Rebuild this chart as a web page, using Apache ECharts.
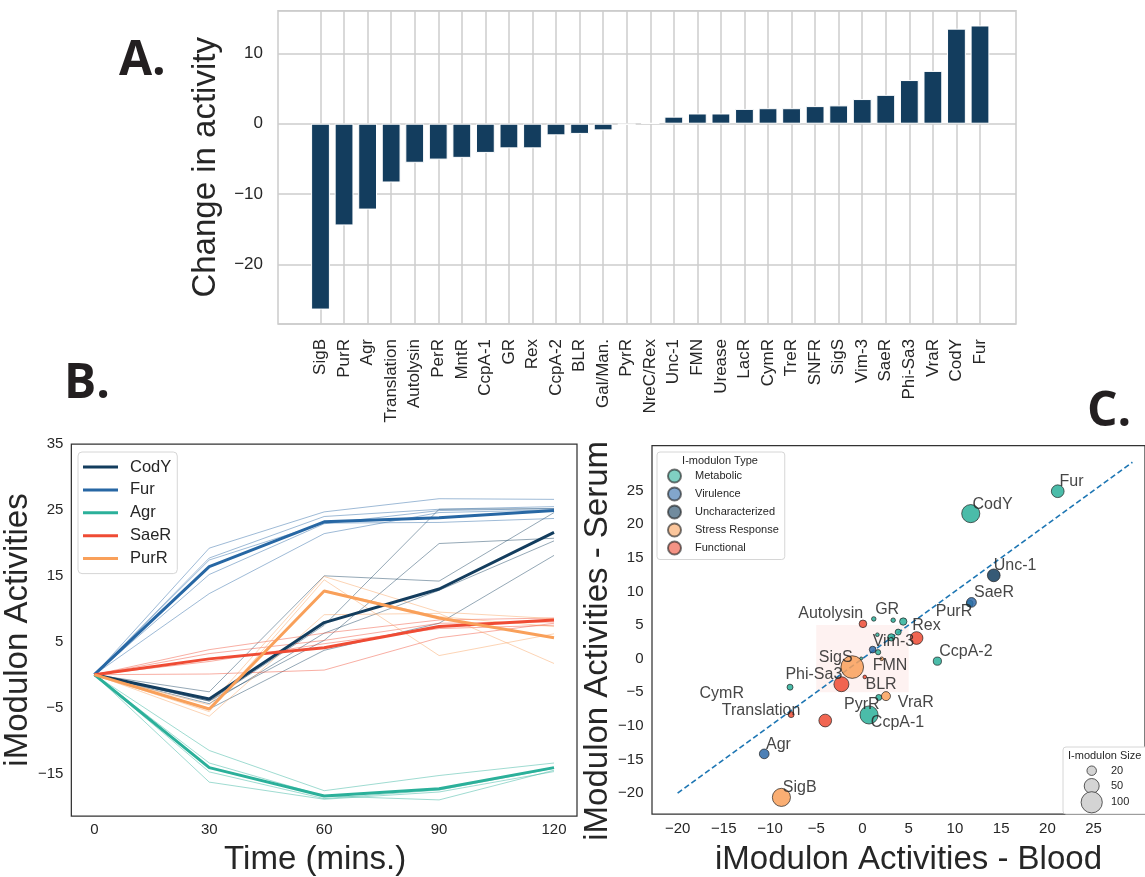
<!DOCTYPE html>
<html><head><meta charset="utf-8">
<script src="https://cdn.jsdelivr.net/npm/echarts@6/dist/echarts.min.js"></script>
<style>html,body{margin:0;padding:0;background:#fff}#c{width:1145px;height:877px}</style>
</head><body><div id="c"></div>
<script>
// ---------- Panel A data ----------
const aCategories = ['SigB','PurR','Agr','Translation','Autolysin','PerR','MntR','CcpA-1','GR','Rex','CcpA-2','BLR','Gal/Man.','PyrR','NreC/Rex','Unc-1','FMN','Urease','LacR','CymR','TreR','SNFR','SigS','Vim-3','SaeR','Phi-Sa3','VraR','CodY','Fur'];
const aValues = [-26.4,-14.45,-12.2,-8.35,-5.55,-5.1,-4.85,-4.15,-3.5,-3.5,-1.65,-1.45,-0.95,-0.15,0.1,1.0,1.45,1.45,2.1,2.2,2.2,2.5,2.6,3.5,4.1,6.2,7.5,13.5,13.95];
const aYTicks = [-20,-10,0,10];

// ---------- Panel B data ----------
const bTimes = [0,30,60,90,120];
const bXTicks = [0,30,60,90,120];
const bYTicks = [-15,-5,5,15,25,35];
const bNames = ['CodY','Fur','Agr','SaeR','PurR'];
const bCodY = [0,-3.7,7.9,13.0,21.6];
const bFur  = [0,16.4,23.2,23.8,24.9];
const bAgr  = [0,-14.1,-18.4,-17.3,-14.1];
const bSaeR = [0,2.4,4.1,7.3,8.3];
const bPurR = [0,-5.2,12.7,8.6,5.6];
const bCodYReps = [[0,-2.6,15.0,14.2,24.6],[0,-4.0,7.5,25.1,25.2],[0,-4.0,5.2,19.9,20.7],[0,-4.4,6.3,12.8,20.3],[0,-5.2,3.7,7.8,18.1]];
const bFurReps  = [[0,19.2,24.7,26.7,26.6],[0,17.7,24.0,25.1,25.5],[0,17.4,23.0,23.1,23.7],[0,15.2,22.9,24.9,25.2],[0,12.3,21.4,24.6,25.0]];
const bAgrReps  = [[0,-11.5,-17.6,-15.3,-13.4],[0,-13.4,-18.4,-19.0,-14.5],[0,-14.75,-18.8,-17.5,-14.2],[0,-16.3,-18.9,-17.8,-14.7]];
const bSaeRReps = [[0,3.8,6.3,8.3,8.6],[0,3.2,5.2,7.8,8.0],[0,0.1,0.7,5.6,7.8],[0,2.0,4.7,7.0,7.5]];
const bPurRReps = [[0,-4.6,14.9,9.5,8.5],[0,-5.6,14.4,2.9,6.2],[0,-6.3,9.1,9.3,1.7],[0,-5.1,12.8,8.8,7.3]];

// ---------- Panel C data ----------
const cTypes = ['Metabolic','Virulence','Uncharacterized','Stress Response','Functional'];
const cNames  = ['PurR','GR','MntR','Urease','LacR','TreR','SNFR','FMN','Gal/Man.','CcpA-2','CymR','PyrR','CcpA-1','Fur','CodY','SaeR','Vim-3','Agr','Unc-1','SigS','PerR','VraR','SigB','Autolysin','Rex','BLR','Phi-Sa3','Translation','NreC/Rex'];
const cBlood  = [11.6,1.22,3.32,4.41,3.86,3.12,1.61,1.69,-0.14,8.1,-7.84,1.76,0.71,21.12,11.71,11.79,1.1,-10.63,14.2,-1.11,2.08,2.54,-8.77,0.05,5.85,0.25,-2.28,-7.72,-4.03];
const cSerum  = [8.2,5.91,5.72,5.52,3.95,3.16,3.56,0.96,0.03,-0.37,-4.24,-5.77,-8.37,24.9,21.57,8.37,1.35,-14.16,12.39,-1.25,-0.02,-5.57,-20.63,5.18,3.07,-2.72,-3.8,-8.32,-9.2];
const cSize   = [10,4.5,4.5,12,8,12,3,6,2,15,8,8,73,36,73,21,10,21,36,114,3,18,73,13,36,3,50,8,36];
const cType   = ['Metabolic','Metabolic','Metabolic','Metabolic','Metabolic','Metabolic','Metabolic','Metabolic','Metabolic','Metabolic','Metabolic','Metabolic','Metabolic','Metabolic','Metabolic','Virulence','Virulence','Virulence','Uncharacterized','Stress Response','Stress Response','Stress Response','Stress Response','Functional','Functional','Functional','Functional','Functional','Functional'];
const cLabeled = ['Fur','CodY','Unc-1','SaeR','PurR','Autolysin','GR','Rex','Vim-3','FMN','CcpA-2','SigS','BLR','Phi-Sa3','CymR','VraR','PyrR','CcpA-1','Translation','Agr','SigB'];
const cXTicks = [-20,-15,-10,-5,0,5,10,15,20,25];
const cYTicks = [-20,-15,-10,-5,0,5,10,15,20,25];
const cDiagonal = [-20, 29.2];
const cHighlight = [-5, 5];
const cSizeKeys = [20, 50, 100];

// ---------- layout / style (not data) ----------
const FONT = 'Liberation Sans';
const TXT = '#262626';
const bColors = {CodY:'#133d5e', Fur:'#2767a4', Agr:'#2bb09a', SaeR:'#ef4b34', PurR:'#f9a05a'};
const cColors = {'Metabolic':'#2bb09a','Virulence':'#2f6aa8','Uncharacterized':'#133d5e','Stress Response':'#f9a05a','Functional':'#ef4b34'};
const cLabelOffset = {
  'Fur':[1.8,-9.3],'CodY':[1.8,-9.3],'Unc-1':[0,-9.3],'SaeR':[2.5,-10],'PurR':[-34,7.7],
  'Autolysin':[-64.7,-10],'GR':[1.4,-9.7],'Rex':[-4.3,-12.7],'Vim-3':[0,-8.3],'FMN':[-5.4,13],
  'CcpA-2':[1.8,-9.3],'SigS':[-33.4,-9.3],'BLR':[0.7,8],'Phi-Sa3':[-56,-9.3],'CymR':[-90.5,6.3],
  'VraR':[11.9,6.3],'PyrR':[-34.8,6.7],'CcpA-1':[1.8,8],'Translation':[-69.3,-3.7],'Agr':[1.8,-9.7],'SigB':[1.4,-9.3]
};
const sizeToDiam = s => 2.12 * Math.sqrt(s);
const minus = v => String(v).replace('-', '\u2212');

const chart = echarts.init(document.getElementById('c'), null, {renderer:'canvas', width:1145, height:877});

const series = [];
// Panel A bars
series.push({type:'bar', xAxisIndex:1, yAxisIndex:1, data:aValues, barWidth:18.8, clip:false,
  itemStyle:{color:'#133d5e', borderColor:'#ffffff', borderWidth:1}, silent:true, z:3});

// Panel B replicate lines
const bMeans = {CodY:bCodY, Fur:bFur, Agr:bAgr, SaeR:bSaeR, PurR:bPurR};
const bReps = {CodY:bCodYReps, Fur:bFurReps, Agr:bAgrReps, SaeR:bSaeRReps, PurR:bPurRReps};
bNames.forEach(n => {
  bReps[n].forEach((r, i) => {
    series.push({type:'line', name:n+' replicate '+(i+1), xAxisIndex:2, yAxisIndex:2,
      data:bTimes.map((t,j)=>[t,r[j]]), symbol:'none', silent:true, z:2,
      lineStyle:{width:1, color:bColors[n], opacity:0.45}, itemStyle:{color:bColors[n]}});
  });
});
bNames.forEach(n => {
  series.push({type:'line', name:n, xAxisIndex:2, yAxisIndex:2,
    data:bTimes.map((t,j)=>[t,bMeans[n][j]]), symbol:'none', silent:true, z:3,
    lineStyle:{width:3, color:bColors[n]}, itemStyle:{color:bColors[n]}});
});

// Panel C identity line + highlight square
series.push({type:'line', name:'identity', xAxisIndex:3, yAxisIndex:3, silent:true, z:2,
  data:[[cDiagonal[0],cDiagonal[0]],[cDiagonal[1],cDiagonal[1]]], symbol:'none',
  lineStyle:{color:'#1f77b4', width:1.7, type:[5.5,3]},
  markArea:{silent:true, itemStyle:{color:'rgba(239,75,52,0.07)'},
    data:[[{coord:[cHighlight[0],cHighlight[0]]},{coord:[cHighlight[1],cHighlight[1]]}]]}});

cTypes.forEach(t => {
  const data = [];
  cNames.forEach((n,i) => {
    if (cType[i] !== t) return;
    const lab = cLabeled.includes(n);
    data.push({name:n, value:[cBlood[i], cSerum[i], cSize[i]],
      label: lab ? {show:true, offset:cLabelOffset[n]} : {show:false}});
  });
  series.push({type:'scatter', name:t, xAxisIndex:3, yAxisIndex:3, data, z:4,
    symbolSize: v => sizeToDiam(v[2]),
    itemStyle:{color:cColors[t], opacity:0.85, borderColor:'#1a1a1a', borderWidth:0.8},
    label:{show:false, formatter:'{b}', position:'inside', align:'left', verticalAlign:'middle',
      fontFamily:FONT, fontSize:16, color:TXT},
    emphasis:{disabled:true}});
});

const tickLabel = (size, margin, vals) => ({fontFamily:FONT, fontSize:size, color:TXT, margin, customValues:vals, formatter:minus});
const nameStyle = {fontFamily:FONT, fontSize:33, color:TXT};

const option = {
  animation:false,
  backgroundColor:'#ffffff',
  textStyle:{fontFamily:FONT},
  grid:[
    {left:278, top:10.7, width:738, height:313.3, show:true, borderColor:'#cccccc', borderWidth:1.5, backgroundColor:'transparent'},
    {left:320.5, top:10.7, width:659.5, height:313.3},
    {left:70, top:444, width:507, height:372, show:true, borderColor:'#333333', borderWidth:1.25},
    {left:652, top:445.7, width:493, height:372.6, show:true, borderColor:'#333333', borderWidth:1.25}
  ],
  xAxis:[
    {type:'value', gridIndex:0, min:0, max:1, show:false},
    {type:'category', gridIndex:1, data:aCategories, boundaryGap:false,
      axisLine:{show:false}, axisTick:{show:false},
      axisLabel:{rotate:90, interval:0, fontFamily:FONT, fontSize:17, color:TXT, margin:15},
      splitLine:{show:true, interval:0, lineStyle:{color:'#cccccc', width:1.5}}},
    {type:'value', gridIndex:2, min:-6, max:126, axisLine:{show:false}, axisTick:{show:false}, splitLine:{show:false},
      axisLabel:tickLabel(15, 6, bXTicks),
      name:'Time (mins.)', nameLocation:'middle', nameGap:27, nameTextStyle:Object.assign({padding:[0,18,0,0]}, nameStyle)},
    {type:'value', gridIndex:3, min:-22.77, max:30.56, axisLine:{show:false}, axisTick:{show:false}, splitLine:{show:false},
      axisLabel:tickLabel(15, 7, cXTicks),
      name:'iModulon Activities - Blood', nameLocation:'middle', nameGap:29, nameTextStyle:Object.assign({padding:[0,0,0,20]}, nameStyle)}
  ],
  yAxis:[
    {type:'value', gridIndex:0, min:-28.45, max:16.05, axisLine:{show:false}, axisTick:{show:false},
      splitLine:{show:true, lineStyle:{color:'#cccccc', width:1.5}},
      axisLabel:tickLabel(17, 15, aYTicks),
      name:'Change in activity', nameLocation:'middle', nameGap:56, nameTextStyle:nameStyle},
    {type:'value', gridIndex:1, min:-28.45, max:16.05, show:false},
    {type:'value', gridIndex:2, min:-21.44, max:35, axisLine:{show:false}, axisTick:{show:false}, splitLine:{show:false},
      axisLabel:tickLabel(15, 8, bYTicks),
      name:'iModulon Activities', nameLocation:'middle', nameGap:31, nameTextStyle:nameStyle},
    {type:'value', gridIndex:3, min:-23.1, max:31.67, axisLine:{show:false}, axisTick:{show:false}, splitLine:{show:false},
      axisLabel:tickLabel(15, 8.5, cYTicks),
      name:'iModulon Activities - Serum', nameLocation:'middle', nameGap:28, nameTextStyle:Object.assign({padding:[0,22,0,0]}, nameStyle)}
  ],
  legend:[
    {data:bNames, orient:'vertical', left:78, top:452, icon:'rect', itemWidth:35, itemHeight:3, itemGap:2.9,
      textStyle:{fontFamily:FONT, fontSize:16.5, color:TXT, lineHeight:20, padding:[0,0,0,7]},
      backgroundColor:'#ffffff', borderColor:'#d6d6d6', borderWidth:1, borderRadius:4, padding:[5,6,5,5],
      selectedMode:false},
    {data:cTypes.map(t=>({name:t, itemStyle:{opacity:0.6}})), orient:'vertical', left:657, top:452, icon:'circle',
      itemWidth:13, itemHeight:13, itemGap:3,
      textStyle:{fontFamily:FONT, fontSize:11, color:TXT, lineHeight:13, padding:[0,0,0,9]},
      backgroundColor:'#ffffff', borderColor:'#d6d6d6', borderWidth:1, borderRadius:3, padding:[16.5,6,4,10],
      selectedMode:false}
  ],
  series,
  graphic:[
    {type:'text', x:119, y:61, style:{text:'A.', font:'bold 48px "Open Sans"', fill:'#231f20', align:'left', verticalAlign:'middle'}},
    {type:'text', x:64, y:384, style:{text:'B.', font:'bold 48px "Open Sans"', fill:'#231f20', align:'left', verticalAlign:'middle'}},
    {type:'text', x:1087, y:412, style:{text:'C.', font:'bold 48px "Open Sans"', fill:'#231f20', align:'left', verticalAlign:'middle'}},
    {type:'text', x:720, y:461, z:100, style:{text:'I-modulon Type', font:'11px "Liberation Sans"', fill:TXT, align:'center', verticalAlign:'middle'}},
    {type:'group', z:100, children:[
      {type:'rect', shape:{x:1063, y:747, width:95, height:67, r:3}, style:{fill:'#ffffff', stroke:'#d6d6d6', lineWidth:1}},
      {type:'text', x:1068, y:756, style:{text:'I-modulon Size', font:'11px "Liberation Sans"', fill:TXT, align:'left', verticalAlign:'middle'}}
    ].concat(cSizeKeys.flatMap((s,i)=>[
      {type:'circle', shape:{cx:1091.7, cy:[770.7,786,802.3][i], r:sizeToDiam(s)/2}, style:{fill:'#d4d4d4', stroke:'#333333', lineWidth:0.8}},
      {type:'text', x:1111, y:[770.7,786,802.3][i], style:{text:String(s), font:'11px "Liberation Sans"', fill:TXT, align:'left', verticalAlign:'middle'}}
    ]))}
  ]
};
chart.setOption(option);
</script></body></html>
